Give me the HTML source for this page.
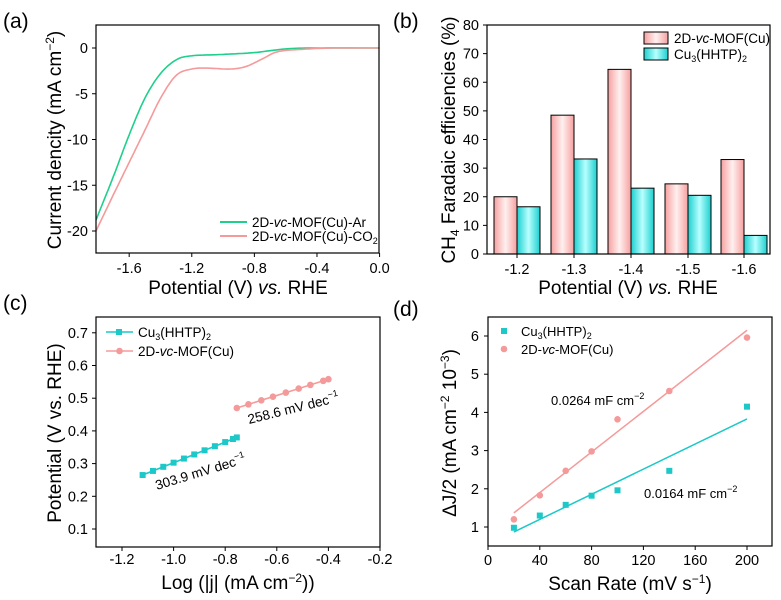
<!DOCTYPE html>
<html><head><meta charset="utf-8"><style>
html,body{margin:0;padding:0;background:#fff}
svg{display:block;font-family:"Liberation Sans",Arial,sans-serif}
</style></head><body>
<svg id="s" width="781" height="600" viewBox="0 0 781 600" xmlns="http://www.w3.org/2000/svg">
<defs>
<linearGradient id="gp" x1="0" x2="1" y1="0" y2="0"><stop offset="0" stop-color="#f6a0a0"/><stop offset="0.5" stop-color="#fff0f0"/><stop offset="1" stop-color="#f6a0a0"/></linearGradient>
<linearGradient id="gc" x1="0" x2="1" y1="0" y2="0"><stop offset="0" stop-color="#1ccfcf"/><stop offset="0.5" stop-color="#b8ffff"/><stop offset="1" stop-color="#1ccfcf"/></linearGradient>
</defs>
<g font-size="21"><text x="3" y="28">(a)</text><text x="393" y="28">(b)</text><text x="3" y="310">(c)</text><text x="393" y="316">(d)</text></g>
<g id="g"></g>
</svg>
<script>
var g=document.getElementById('g'),h='';
var TS=14.5;
function L(x1,y1,x2,y2,c,w){h+='<line x1="'+x1+'" y1="'+y1+'" x2="'+x2+'" y2="'+y2+'" stroke="'+(c||'#000')+'" stroke-width="'+(w||1)+'"/>';}
function T(x,y,t,a,s,ex){h+='<text x="'+x+'" y="'+y+'" text-anchor="'+(a||'middle')+'" font-size="'+(s||TS)+'" '+(ex||'')+'>'+t+'</text>';}
function box(x1,y1,x2,y2){h+='<rect x="'+x1+'" y="'+y1+'" width="'+(x2-x1)+'" height="'+(y2-y1)+'" fill="none" stroke="#000" stroke-width="1.2"/>';}
function poly(p,c,w){h+='<polyline fill="none" stroke="'+c+'" stroke-width="'+(w||1.6)+'" points="'+p.map(function(q){return q[0].toFixed(1)+','+q[1].toFixed(1)}).join(' ')+'"/>';}
// (a)
var ax=function(v){return 96+(v+1.812)*156.5},ay=function(j){return 48-j*9.15};
[0,-5,-10,-15,-20].forEach(function(j){L(92,ay(j),96,ay(j));T(88,ay(j)+5,j==0?'0':j,'end');});
[-1.6,-1.2,-0.8,-0.4,0].forEach(function(v){L(ax(v),253,ax(v),257);T(ax(v),273,v.toFixed(1));});
function smooth(pts,f1,f2){var out=[];for(var i=0;i<pts.length-1;i++){var p0=pts[Math.max(i-1,0)],p1=pts[i],p2=pts[i+1],p3=pts[Math.min(i+2,pts.length-1)];for(var t=0;t<1;t+=0.1){var t2=t*t,t3=t2*t;function c(a,b,cc,d){return 0.5*(2*b+(-a+cc)*t+(2*a-5*b+4*cc-d)*t2+(-a+3*b-3*cc+d)*t3)}out.push([f1(c(p0[0],p1[0],p2[0],p3[0])),f2(c(p0[1],p1[1],p2[1],p3[1]))]);}}var l=pts[pts.length-1];out.push([f1(l[0]),f2(l[1])]);return out;}
var gr=[[-1.812,-18.8],[-1.7,-14],[-1.6,-9.5],[-1.5,-5.5],[-1.4,-2.8],[-1.3,-1.3],[-1.2,-0.85],[-1.0,-0.7],[-0.8,-0.5],[-0.6,-0.1],[-0.4,0],[0,0]];
var pk=[[-1.812,-20],[-1.7,-16],[-1.6,-12.5],[-1.5,-9],[-1.4,-5.5],[-1.3,-3],[-1.2,-2.3],[-1.1,-2.2],[-0.95,-2.3],[-0.85,-2],[-0.75,-1.2],[-0.65,-0.4],[-0.5,-0.15],[-0.3,0],[0,0]];
poly(smooth(gr,ax,ay),'#1fcf8c');poly(smooth(pk,ax,ay),'#f59a9a');
box(96,25,379,253);
L(220,222,247,222,'#1fcf8c',2);T(252,227,'2D-<tspan font-style="italic">vc</tspan>-MOF(Cu)-Ar','start',13.5);
L(220,236,247,236,'#f59a9a',2);T(252,241,'2D-<tspan font-style="italic">vc</tspan>-MOF(Cu)-CO<tspan font-size="9" dy="3">2</tspan>','start',13.5);
T(238,294,'Potential (V) <tspan font-style="italic">vs.</tspan> RHE','middle',19);
T(0,0,'Current dencity (mA cm<tspan font-size="12" dy="-7">−2</tspan><tspan dy="7">)</tspan>','middle',19,'transform="translate(61,140) rotate(-90)"');
// (b)
var by=function(v){return 254-v*2.8625};
[0,10,20,30,40,50,60,70,80].forEach(function(v){L(483,by(v),487,by(v));T(479,by(v)+5,v,'end');});
var cs=[517,574,631,688,744],P=[20,48.5,64.5,24.5,33],C=[16.5,33.2,23,20.5,6.5],lab=['-1.2','-1.3','-1.4','-1.5','-1.6'];
cs.forEach(function(x,i){h+='<rect x="'+(x-23)+'" y="'+by(P[i])+'" width="23" height="'+(254-by(P[i]))+'" fill="url(#gp)" stroke="#000" stroke-width="1"/>';h+='<rect x="'+x+'" y="'+by(C[i])+'" width="23" height="'+(254-by(C[i]))+'" fill="url(#gc)" stroke="#000" stroke-width="1"/>';L(x,254,x,258);T(x,274,lab[i]);});
box(487,25,770,254);
h+='<rect x="644" y="32" width="24" height="12" fill="url(#gp)" stroke="#000"/><rect x="644" y="48" width="24" height="12" fill="url(#gc)" stroke="#000"/>';
T(674,43,'2D-<tspan font-style="italic">vc</tspan>-MOF(Cu)','start',13.5);T(674,59,'Cu<tspan font-size="9" dy="3">3</tspan><tspan dy="-3">(HHTP)</tspan><tspan font-size="9" dy="3">2</tspan>','start',13.5);
T(628,294,'Potential (V) <tspan font-style="italic">vs.</tspan> RHE','middle',19);
T(0,0,'CH<tspan font-size="12" dy="4">4</tspan><tspan dy="-4"> Faradaic efficiencies (%)</tspan>','middle',19,'transform="translate(455,140) rotate(-90)"');
// (c)
var cx=function(v){return 122+(v+1.2)*258},cy=function(v){return 529-(v-0.1)*327};
[0.1,0.2,0.3,0.4,0.5,0.6,0.7].forEach(function(v){L(92,cy(v),96,cy(v));T(88,cy(v)+5,v.toFixed(1),'end');});
[-1.2,-1.0,-0.8,-0.6,-0.4,-0.2].forEach(function(v){L(cx(v),547,cx(v),551);T(cx(v),564,v.toFixed(1));});
var cp=[],xs=[-1.12,-1.08,-1.04,-1.0,-0.96,-0.92,-0.88,-0.84,-0.80,-0.77,-0.755];xs.forEach(function(x){cp.push([cx(x),cy(0.265+(x+1.12)/0.365*0.115)]);});
poly(cp,'#1cc8c8',1.6);cp.forEach(function(p){h+='<rect x="'+(p[0]-3)+'" y="'+(p[1]-3)+'" width="6" height="6" fill="#1cc8c8"/>';});
var pp=[];[-0.755,-0.71,-0.66,-0.615,-0.565,-0.515,-0.47,-0.42,-0.40].forEach(function(x){pp.push([cx(x),cy(0.47+(x+0.755)/0.355*0.088)]);});
poly(pp,'#f59a9a',1.6);pp.forEach(function(p){h+='<circle cx="'+p[0]+'" cy="'+p[1]+'" r="3.3" fill="#f59a9a"/>';});
box(96,317,380,547);
L(106,332,133,332,'#1cc8c8',1.6);h+='<rect x="116" y="329" width="6" height="6" fill="#1cc8c8"/>';T(138,337,'Cu<tspan font-size="9" dy="3">3</tspan><tspan dy="-3">(HHTP)</tspan><tspan font-size="9" dy="3">2</tspan>','start',13.5);
L(106,351,133,351,'#f59a9a',1.6);h+='<circle cx="119.5" cy="351" r="3.3" fill="#f59a9a"/>';T(138,356,'2D-<tspan font-style="italic">vc</tspan>-MOF(Cu)','start',13.5);
T(0,0,'258.6 mV dec<tspan font-size="9" dy="-6">−1</tspan>','start',13.5,'transform="translate(249,424) rotate(-14)"');
T(0,0,'303.9 mV dec<tspan font-size="9" dy="-6">−1</tspan>','start',13.5,'transform="translate(157,490) rotate(-17)"');
T(238,589,'Log (|j| (mA cm<tspan font-size="12" dy="-7">−2</tspan><tspan dy="7">))</tspan>','middle',19);
T(0,0,'Potential (V vs. RHE)','middle',19,'transform="translate(61,433) rotate(-90)"');
// (d)
var dx=function(v){return 488+v*1.295},dy=function(v){return 527-(v-1)*38.2};
[1,2,3,4,5,6].forEach(function(v){L(484,dy(v),488,dy(v));T(479,dy(v)+5,v,'end');});
[0,40,80,120,160,200].forEach(function(v){L(dx(v),546,dx(v),550);T(dx(v),565,v);});
L(dx(20),dy(0.87),dx(200),dy(3.83),'#1cc8c8',1.5);L(dx(20),dy(1.37),dx(200),dy(6.15),'#f59a9a',1.5);
[[20,0.98],[40,1.3],[60,1.58],[80,1.82],[100,1.96],[140,2.47],[200,4.15]].forEach(function(p){h+='<rect x="'+(dx(p[0])-3)+'" y="'+(dy(p[1])-3)+'" width="6" height="6" fill="#1cc8c8"/>';});
[[20,1.2],[40,1.83],[60,2.47],[80,2.98],[100,3.82],[140,4.56],[200,5.96]].forEach(function(p){h+='<circle cx="'+dx(p[0])+'" cy="'+dy(p[1])+'" r="3.3" fill="#f59a9a"/>';});
box(488,317,772,546);
h+='<rect x="501" y="328" width="6" height="6" fill="#1cc8c8"/><circle cx="504" cy="349" r="3.3" fill="#f59a9a"/>';
T(521,336,'Cu<tspan font-size="9" dy="3">3</tspan><tspan dy="-3">(HHTP)</tspan><tspan font-size="9" dy="3">2</tspan>','start',13);
T(521,354,'2D-<tspan font-style="italic">vc</tspan>-MOF(Cu)','start',13);
T(551,405,'0.0264 mF cm<tspan font-size="9" dy="-6">−2</tspan>','start',13);
T(644,498,'0.0164 mF cm<tspan font-size="9" dy="-6">−2</tspan>','start',13);
T(630,590,'Scan Rate (mV s<tspan font-size="12" dy="-7">−1</tspan><tspan dy="7">)</tspan>','middle',19);
T(0,0,'ΔJ/2 (mA cm<tspan font-size="12" dy="-7">−2</tspan><tspan dy="7"> 10</tspan><tspan font-size="12" dy="-7">−3</tspan><tspan dy="7">)</tspan>','middle',19,'transform="translate(456,433) rotate(-90)"');
g.innerHTML=h;
</script>
</body></html>
